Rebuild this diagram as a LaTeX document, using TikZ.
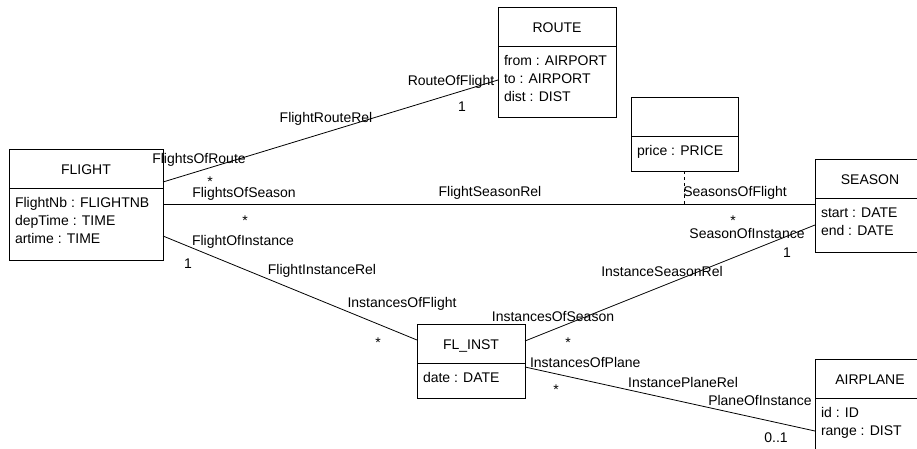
\documentclass[tikz,border=0pt]{standalone}
\usepackage{fontspec}
\setmainfont{Liberation Sans}

% A class box: name, left, top, width, height, title
\newcommand\umlclassbox[6]{%
  \node[clsbox, minimum width=#4pt, minimum height=#5pt] (#1) at (#2,#3) {};
  \draw[conn] ([yshift=-39pt]#1.north west) -- ([yshift=-39pt]#1.north east);
  \node[clstitle] (#1-title) at ([yshift=-25pt]#1.north) {#6};
}
% An attribute line: box, tag, offset from the box top, text
\newcommand\umlattr[4]{%
  \node[attr] (#1-#2) at ([xshift=6pt,yshift=-#3pt]#1.north west) {#4};
}

\begin{document}
\begin{tikzpicture}[x=1pt,y=-1pt,
  every node/.style={font=\fontsize{14}{17}\selectfont, inner sep=0pt, outer sep=0pt},
  conn/.style={line width=0.8pt, draw=black},
  clsbox/.style={draw=black, line width=0.8pt, anchor=north west},
  clstitle/.style={anchor=base},
  attr/.style={anchor=base west},
  lbl/.style={anchor=base}]

\useasboundingbox (0,0) rectangle (917,448);
\clip (0,0) rectangle (917,448);

% classes
\umlclassbox{flight}{9}{149}{154}{111}{FLIGHT}
\umlattr{flight}{a}{58.5}{FlightNb : FLIGHTNB}
\umlattr{flight}{b}{76.5}{depTime : TIME}
\umlattr{flight}{c}{94.5}{artime : TIME}

\umlclassbox{route}{498}{7}{118}{110}{ROUTE}
\umlattr{route}{a}{58.5}{from : AIRPORT}
\umlattr{route}{b}{76.5}{to : AIRPORT}
\umlattr{route}{c}{94.5}{dist : DIST}

\umlclassbox{price}{631}{97}{107}{74}{}
\umlattr{price}{a}{58.5}{price : PRICE}

\umlclassbox{season}{815}{159}{110}{93}{SEASON}
\umlattr{season}{a}{58.5}{start : DATE}
\umlattr{season}{b}{76.5}{end : DATE}

\umlclassbox{inst}{417}{324}{108}{74}{FL\_INST}
\umlattr{inst}{a}{58.5}{date : DATE}

\umlclassbox{plane}{815}{359}{110}{100}{AIRPLANE}
\umlattr{plane}{a}{58.5}{id : ID}
\umlattr{plane}{b}{76.5}{range : DIST}

% associations
\draw[conn] ([yshift=22.5pt]flight.east) -- ([yshift=-18pt]route.west);
\draw[conn] (flight.east) -- (flight.east -| season.west);
\draw[conn, dashed] (price.south) -- (price.south |- flight.east);
\draw[conn] ([yshift=-31.5pt]flight.east) -- ([yshift=21pt]inst.west);
\draw[conn] ([yshift=20pt]inst.east) -- ([yshift=-19.5pt]season.west);
\draw[conn] ([yshift=-6pt]inst.east) -- ([yshift=-22pt]plane.west);

% role names and multiplicities
\node[lbl] (r1) at (199,163) {FlightsOfRoute};
\node[lbl] (m1) at (210,186.3) {*};
\node[lbl] (n1) at (326,122) {FlightRouteRel};
\node[lbl] (r2) at (451,85) {RouteOfFlight};
\node[lbl] (m2) at (462,111) {1};

\node[lbl] (r3) at (244,197) {FlightsOfSeason};
\node[lbl] (m3) at (245,225) {*};
\node[lbl] (n2) at (490,196) {FlightSeasonRel};
\node[lbl] (r4) at (735,196) {SeasonsOfFlight};
\node[lbl] (m4) at (733,225) {*};

\node[lbl] (r5) at (243,245) {FlightOfInstance};
\node[lbl] (m5) at (188,268) {1};
\node[lbl] (n3) at (322,274) {FlightInstanceRel};
\node[lbl] (r6) at (402,307) {InstancesOfFlight};
\node[lbl] (m6) at (378,347) {*};

\node[lbl] (r7) at (553,321) {InstancesOfSeason};
\node[lbl] (m7) at (568,347) {*};
\node[lbl] (n4) at (662,276) {InstanceSeasonRel};
\node[lbl] (r8) at (747,238) {SeasonOfInstance};
\node[lbl] (m8) at (787,257) {1};

\node[lbl, anchor=base west] (r9) at (530,367) {InstancesOfPlane};
\node[lbl] (m9) at (556,394) {*};
\node[lbl] (n5) at (683,387) {InstancePlaneRel};
\node[lbl] (r10) at (760,405) {PlaneOfInstance};
\node[lbl] (m10) at (776,442) {0..1};
\end{tikzpicture}
\end{document}
